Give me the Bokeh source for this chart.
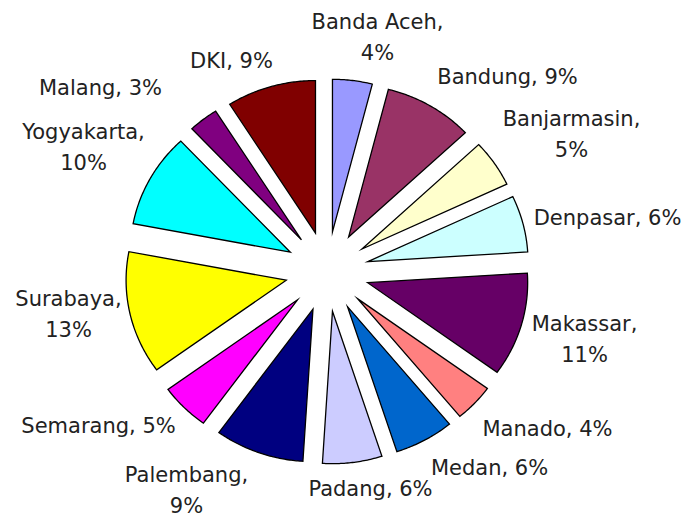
import math
from bokeh.plotting import figure
from bokeh.models import Range1d, ColumnDataSource
from bokeh.core.properties import value
from bokeh.embed import file_html
from bokeh.resources import INLINE

# ---- data ----
cities = ["Banda Aceh", "Bandung", "Banjarmasin", "Denpasar", "Makassar", "Manado",
          "Medan", "Padang", "Palembang", "Semarang", "Surabaya", "Yogyakarta",
          "Malang", "DKI"]
shares = [4, 9, 5, 6, 11, 4, 6, 6, 9, 5, 13, 10, 3, 9]
colors = ["#9999FF", "#993366", "#FFFFCC", "#CCFFFF", "#660066", "#FF8080",
          "#0066CC", "#CCCCFF", "#000080", "#FF00FF", "#FFFF00", "#00FFFF",
          "#800080", "#800000"]
# labels broken onto two lines
two_line = ["Banda Aceh", "Banjarmasin", "Makassar", "Palembang", "Surabaya", "Yogyakarta"]

# ---- layout (page pixel units, y downward) ----
CX, CY = 326.7, 271.0      # pie centre
R = 152.5                  # slice radius
EXPLODE = 40.0             # explosion distance
SX = 1.05                  # slight horizontal stretch of the original
LINE_GAP = 31.0
label_pos = {
    "Banda Aceh": (377, 37), "Bandung": (507, 76), "Banjarmasin": (571, 134),
    "Denpasar": (607, 217), "Makassar": (584, 339), "Manado": (547, 428),
    "Medan": (489, 467), "Padang": (370, 488), "Palembang": (186, 490),
    "Semarang": (98, 425), "Surabaya": (68, 314), "Yogyakarta": (83, 147),
    "Malang": (100, 87), "DKI": (231, 60),
}

W, H = 681, 517
p = figure(width=W, height=H, output_backend="svg", toolbar_location=None,
           x_range=Range1d(0, W), y_range=Range1d(-H, 0),
           x_axis_location=None, y_axis_location=None, min_border=0)
p.grid.visible = False
p.outline_line_color = None
p.background_fill_color = "white"

total = float(sum(shares))
xs, ys = [], []
cum = 0.0
for v in shares:
    a0 = cum / total * 2 * math.pi
    a1 = (cum + v) / total * 2 * math.pi
    cum += v
    mid = (a0 + a1) / 2
    ax = CX + SX * EXPLODE * math.sin(mid)
    ay = CY - EXPLODE * math.cos(mid)
    n = max(8, int(v * 6))
    px = [ax]
    py = [-ay]
    for k in range(n + 1):
        t = a0 + (a1 - a0) * k / n
        px.append(ax + SX * R * math.sin(t))
        py.append(-(ay - R * math.cos(t)))
    xs.append(px)
    ys.append(py)

src = ColumnDataSource(dict(xs=xs, ys=ys, color=colors, city=cities, share=shares))
p.patches("xs", "ys", source=src, fill_color="color", line_color="black",
          line_width=1.3, line_join="miter")

tx, ty, tt = [], [], []
for c, v in zip(cities, shares):
    lx, ly = label_pos[c]
    if c in two_line:
        tx += [lx, lx]
        ty += [-(ly - LINE_GAP / 2), -(ly + LINE_GAP / 2)]
        tt += [f"{c},", f"{v}%"]
    else:
        tx.append(lx)
        ty.append(-ly)
        tt.append(f"{c}, {v}%")

p.text(x=tx, y=ty, text=tt, text_font=value("DejaVu Sans"), text_font_size="21px",
       text_color="#222222", text_align="center", text_baseline="middle")

open("out.html", "w").write(file_html(p, INLINE))
